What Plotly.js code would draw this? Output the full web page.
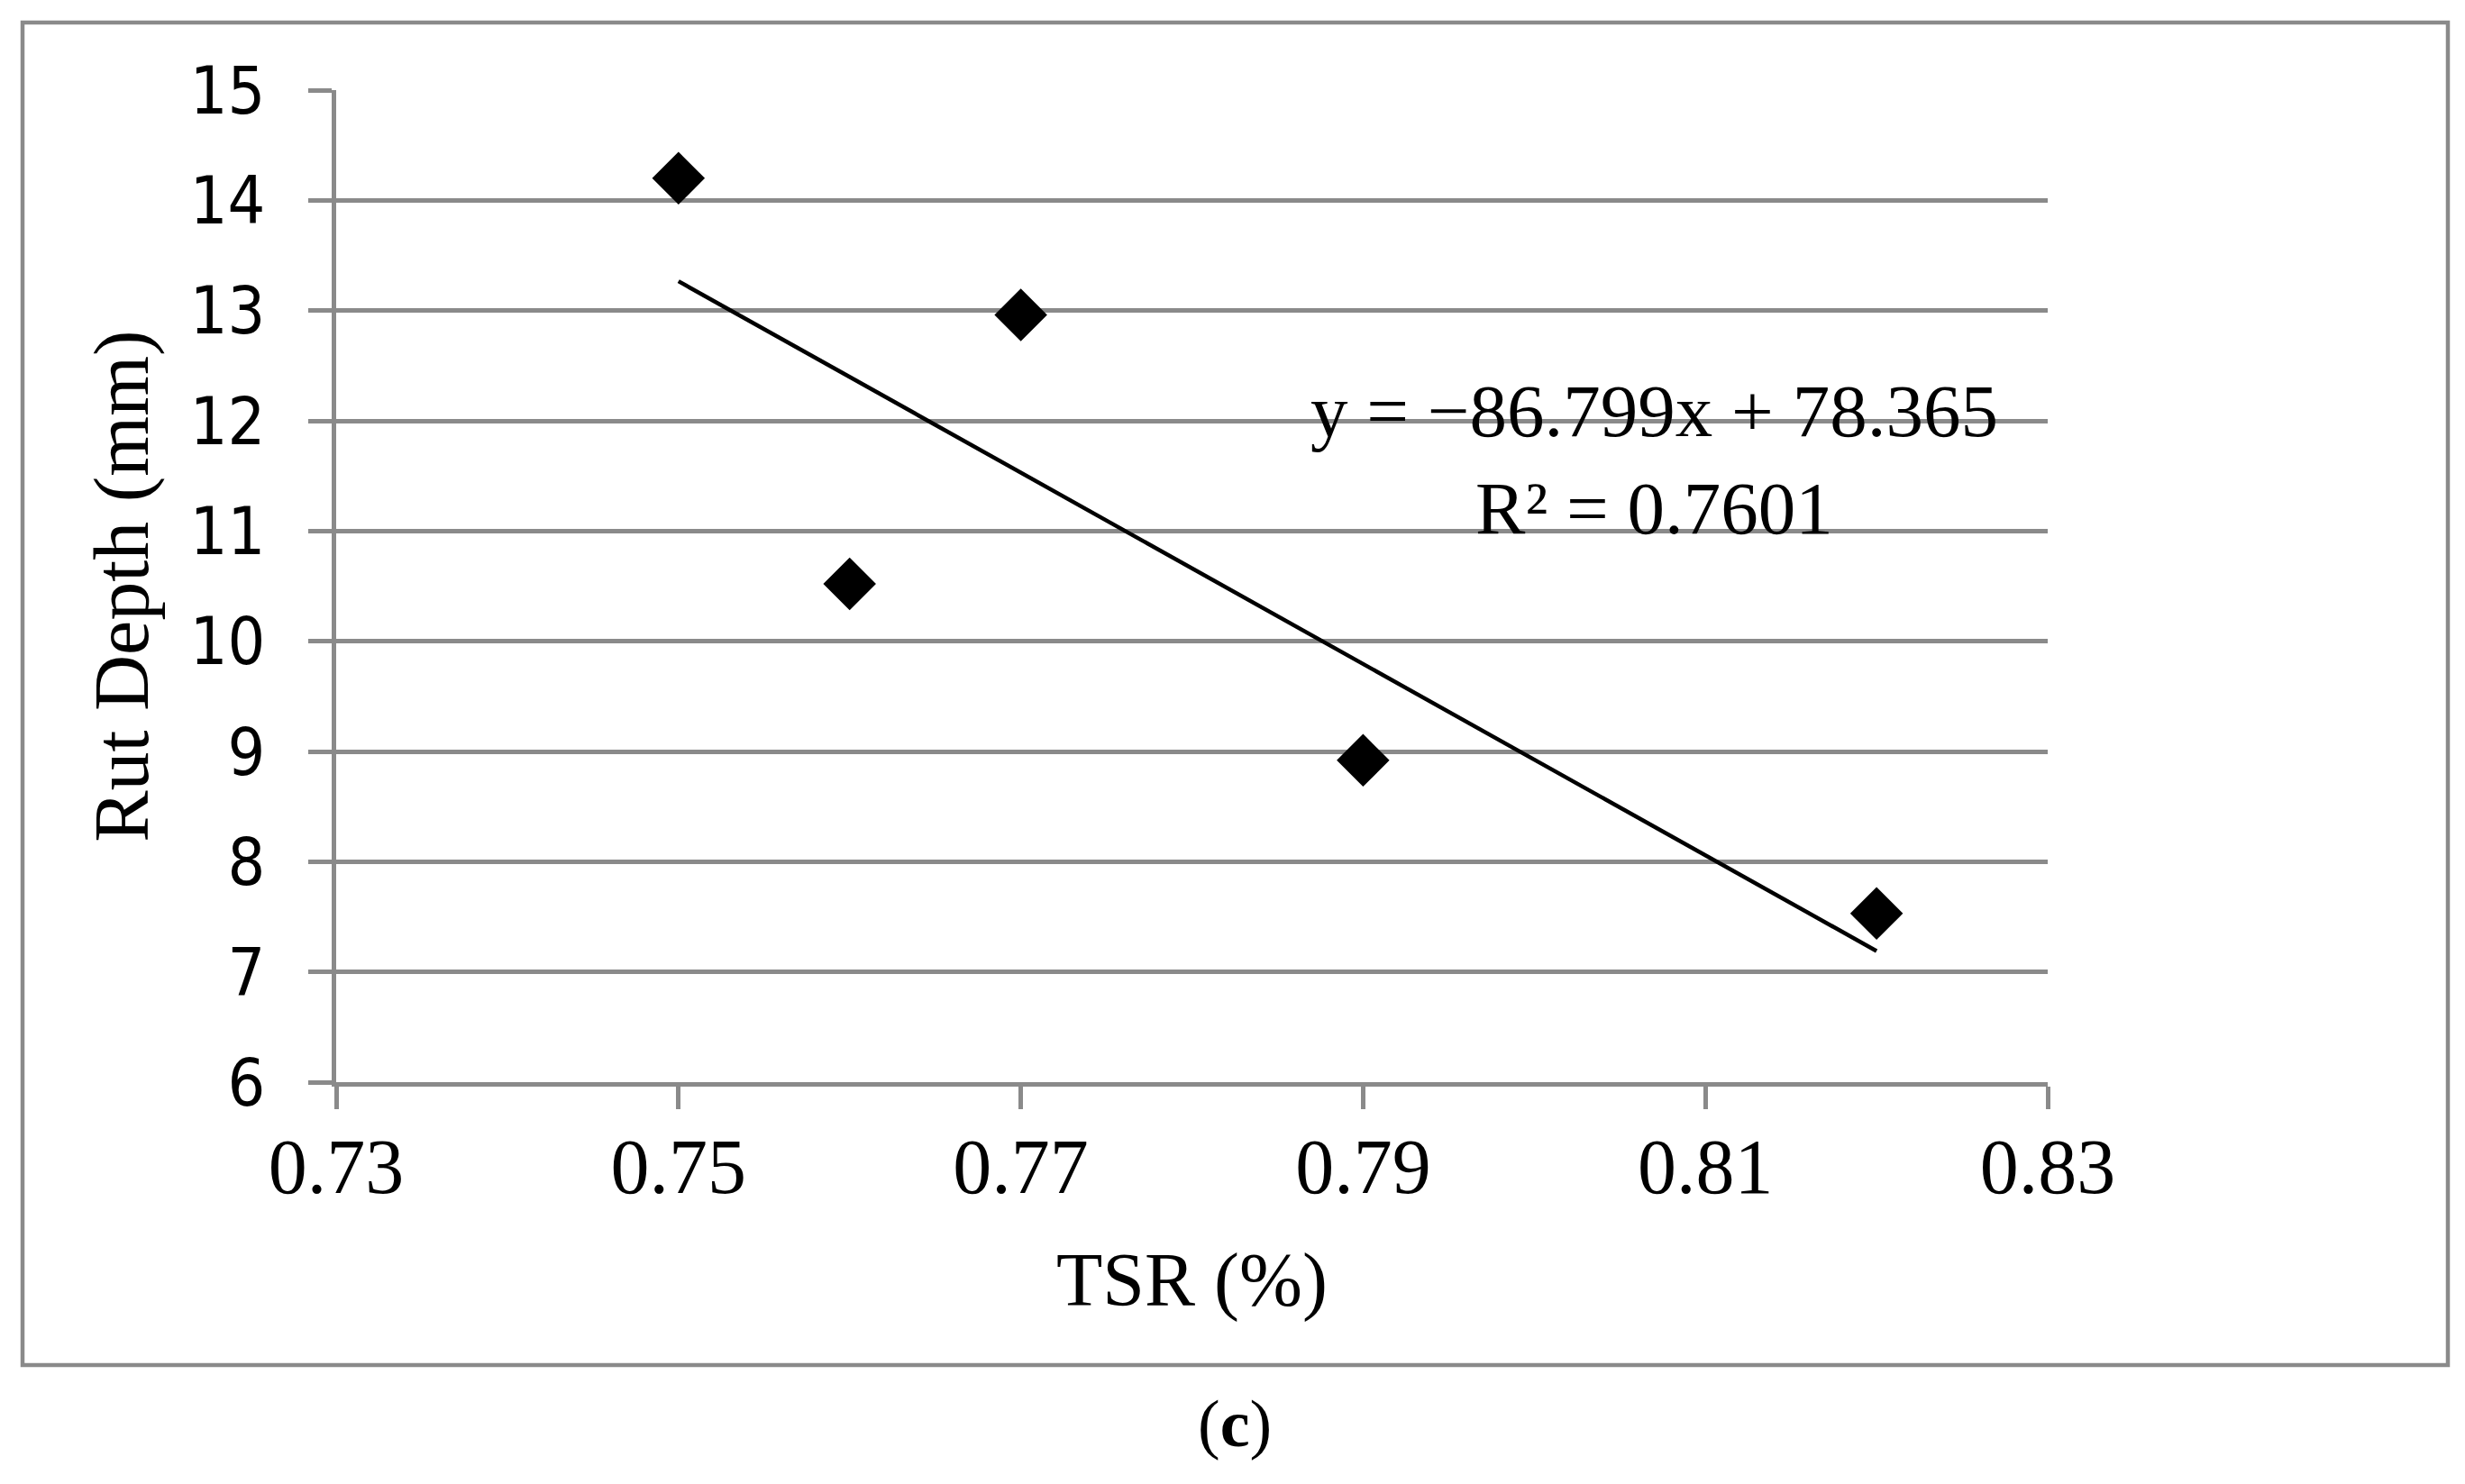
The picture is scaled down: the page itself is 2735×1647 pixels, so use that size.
<!DOCTYPE html>
<html>
<head>
<meta charset="utf-8">
<title>Rut depth vs TSR</title>
<script src="https://cdn.plot.ly/plotly-3.0.1.min.js"></script>
<style>
  html, body { margin: 0; padding: 0; background: #ffffff; }
  #chart { width: 2735px; height: 1647px; }
</style>
</head>
<body>
<div id="chart"></div>
<script>
  // Values (c): rut depth against tensile strength ratio.
  const tsr = [0.75, 0.76, 0.77, 0.79, 0.82];
  const rutDepth = [14.20, 10.52, 12.96, 8.92, 7.53];

  // Linear trend as printed on the chart.
  const trendSlope = -86.799;
  const trendIntercept = 78.365;
  const trendLabel = "y = \u221286.799x + 78.365<br>R\u00b2 = 0.7601";

  const xTicks = [0.73, 0.75, 0.77, 0.79, 0.81, 0.83];
  const yTicks = [6, 7, 8, 9, 10, 11, 12, 13, 14, 15];

  const SERIF = "Liberation Serif, Times New Roman, serif";
  const SANS = "DejaVu Sans Condensed, DejaVu Sans, sans-serif";
  const GREY = "#8a8a8a";

  // Plot area in page pixels, used to place the outer frame.
  const W = 2735, H = 1647;
  const M = { l: 373, r: 463, t: 100, b: 446 };
  const plotW = W - M.l - M.r;
  const plotH = H - M.t - M.b;
  const px = (x) => (x - M.l) / plotW;
  const py = (y) => (H - M.b - y) / plotH;

  const xMin = Math.min.apply(null, tsr);
  const xMax = Math.max.apply(null, tsr);
  const trendX = [xMin, xMax];
  const trendY = trendX.map((x) => trendSlope * x + trendIntercept);

  const points = {
    x: tsr,
    y: rutDepth,
    type: "scatter",
    mode: "markers",
    marker: { symbol: "diamond", size: 45, color: "#000000" },
    hoverinfo: "x+y",
  };

  const trend = {
    x: trendX,
    y: trendY,
    type: "scatter",
    mode: "lines",
    line: { color: "#000000", width: 4.5 },
    hoverinfo: "skip",
  };

  const layout = {
    width: W,
    height: H,
    margin: M,
    paper_bgcolor: "#ffffff",
    plot_bgcolor: "#ffffff",
    showlegend: false,
    xaxis: {
      range: [0.73, 0.83],
      tickvals: xTicks,
      ticktext: xTicks.map((v) => v.toFixed(2)),
      showgrid: false,
      zeroline: false,
      showline: true,
      linecolor: GREY,
      linewidth: 5,
      ticks: "outside",
      ticklen: 25,
      tickwidth: 5,
      tickcolor: GREY,
      ticklabelstandoff: -10,
      tickfont: { family: SERIF, size: 86, color: "#000000" },
      title: {
        text: "TSR (%)",
        standoff: 49,
        font: { family: SERIF, size: 84, color: "#000000" },
      },
    },
    yaxis: {
      range: [6, 15],
      tickvals: yTicks,
      showgrid: true,
      gridcolor: GREY,
      gridwidth: 5,
      zeroline: false,
      showline: true,
      linecolor: GREY,
      linewidth: 5,
      ticks: "outside",
      ticklen: 26,
      tickwidth: 5,
      tickcolor: GREY,
      ticklabelstandoff: 33,
      tickfont: { family: SANS, size: 73, color: "#000000" },
      title: {
        text: "Rut Depth (mm)",
        standoff: 19,
        font: { family: SERIF, size: 86, color: "#000000" },
      },
    },
    shapes: [
      {
        type: "rect",
        xref: "paper",
        yref: "paper",
        x0: px(25),
        x1: px(2716),
        y0: py(1515),
        y1: py(25),
        line: { color: GREY, width: 4.5 },
        fillcolor: "rgba(0,0,0,0)",
        layer: "below",
      },
    ],
    annotations: [
      {
        x: 0.807,
        y: 11.65,
        xref: "x",
        yref: "y",
        text: trendLabel,
        showarrow: false,
        align: "center",
        xanchor: "center",
        yanchor: "middle",
        font: { family: SERIF, size: 83, color: "#000000" },
      },
      {
        x: px(1370),
        y: py(1580),
        xref: "paper",
        yref: "paper",
        text: "(<b>c</b>)",
        showarrow: false,
        xanchor: "center",
        yanchor: "middle",
        font: { family: SERIF, size: 74, color: "#000000" },
      },
    ],
  };

  Plotly.newPlot("chart", [trend, points], layout, { displayModeBar: false, staticPlot: true });
</script>
</body>
</html>
